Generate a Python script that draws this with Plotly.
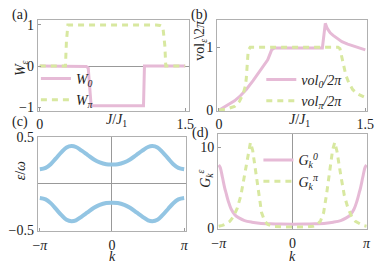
import plotly.graph_objects as go

# ---------------- data ----------------
# (a) winding numbers vs J/J1
J_w0 = [0.0, 0.45, 0.48, 0.50, 0.53, 0.60, 0.80, 1.00, 1.07, 1.08, 1.10, 1.50]
W0 = [0.0, 0.0, -0.01, -0.05, -0.97, -0.97, -0.97, -0.97, -0.97, 0.0, 0.0, 0.0]
J_wpi = [0.0, 0.265, 0.275, 0.29, 1.20, 1.24, 1.27, 1.29, 1.30, 1.50]
Wpi = [0.0, 0.0, 0.6, 1.0, 1.0, 0.99, 0.95, 0.5, 0.0, 0.0]

# (b) volumes vs J/J1
J_v0 = [0.0, 0.05, 0.10, 0.16, 0.22, 0.28, 0.35, 0.42, 0.47, 0.50, 0.52, 0.54, 0.57,
        0.70, 0.90, 1.06, 1.08, 1.09, 1.11, 1.14, 1.17, 1.22, 1.26, 1.32, 1.40, 1.50]
vol0 = [0.0, 0.05, 0.10, 0.15, 0.23, 0.33, 0.47, 0.62, 0.72, 0.80, 0.88, 0.96, 0.99,
        0.99, 0.99, 0.99, 1.25, 1.38, 1.30, 1.23, 1.19, 1.13, 1.09, 1.05, 1.01, 0.96]
J_vpi = [0.0, 0.08, 0.16, 0.21, 0.25, 0.27, 0.28, 0.29, 0.30, 0.32, 0.60, 1.00,
         1.22, 1.24, 1.26, 1.28, 1.30, 1.33, 1.37, 1.42, 1.48, 1.50]
volpi = [0.0, 0.02, 0.06, 0.14, 0.27, 0.38, 0.50, 0.75, 0.95, 1.0, 1.0, 1.0,
         1.0, 0.98, 0.85, 0.68, 0.56, 0.44, 0.33, 0.26, 0.21, 0.20]

# (c) quasienergy bands vs k (k in units of pi)
k_band = [-1.0, -0.92, -0.85, -0.78, -0.70, -0.63, -0.56, -0.50, -0.42, -0.34, -0.25, -0.17, -0.08, 0.0,
          0.08, 0.17, 0.25, 0.34, 0.42, 0.50, 0.56, 0.63, 0.70, 0.78, 0.85, 0.92, 1.0]
band_up = [0.155, 0.17, 0.21, 0.27, 0.34, 0.39, 0.405, 0.395, 0.355, 0.31, 0.26, 0.228, 0.208, 0.205,
           0.208, 0.228, 0.26, 0.31, 0.355, 0.395, 0.405, 0.39, 0.34, 0.27, 0.21, 0.17, 0.155]
band_dn = [-0.155, -0.17, -0.21, -0.27, -0.34, -0.39, -0.405, -0.395, -0.355, -0.31, -0.26, -0.228, -0.208, -0.205,
           -0.208, -0.228, -0.26, -0.31, -0.355, -0.395, -0.405, -0.39, -0.34, -0.27, -0.21, -0.17, -0.155]

# (d) G_k vs k (k in units of pi)
k_g0 = [-1.0, -0.98, -0.95, -0.92, -0.90, -0.87, -0.83, -0.78, -0.72, -0.65, -0.55, -0.45, -0.30, -0.15, 0.0,
        0.15, 0.30, 0.45, 0.55, 0.65, 0.72, 0.78, 0.83, 0.87, 0.90, 0.92, 0.95, 0.98, 1.0]
G0 = [7.8, 7.5, 6.3, 5.0, 4.3, 3.3, 2.3, 1.6, 1.2, 0.9, 0.7, 0.58, 0.5, 0.46, 0.45,
      0.46, 0.5, 0.58, 0.7, 0.9, 1.2, 1.6, 2.3, 3.3, 4.3, 5.0, 6.3, 7.5, 7.8]
k_gpi = [-1.0, -0.95, -0.90, -0.85, -0.80, -0.75, -0.70, -0.65, -0.60, -0.57, -0.54, -0.50, -0.46, -0.42,
         -0.38, -0.34, -0.28, -0.20, -0.10, 0.0, 0.10, 0.20, 0.28, 0.34, 0.38, 0.42, 0.46, 0.50, 0.54,
         0.57, 0.60, 0.65, 0.70, 0.75, 0.80, 0.85, 0.90, 0.95, 1.0]
Gpi = [0.2, 0.3, 0.5, 0.8, 1.4, 2.4, 4.0, 6.6, 9.5, 10.6, 9.6, 6.9, 4.2, 1.9,
       0.9, 0.45, 0.2, 0.12, 0.1, 0.1, 0.1, 0.12, 0.2, 0.45, 0.9, 1.9, 4.2, 6.9, 9.6,
       10.6, 9.5, 6.6, 4.0, 2.4, 1.4, 0.8, 0.5, 0.3, 0.2]

pi_ticks = [-1, 0, 1]
pi_labels = ["\u2212<i>\u03c0</i>", "0", "<i>\u03c0</i>"]

PINK = "#e6bad6"
GREEN = "#d8e8a0"
BLUE = "#93c5e3"
DASH = "6px,5px"
FONT = "'Liberation Serif', 'Times New Roman', serif"
FS = 14
W = 381
H = 265

fig = go.Figure()

fig.add_trace(go.Scatter(x=J_w0, y=W0, mode="lines", name="<i>W<sub>0</sub></i>",
                         line=dict(color=PINK, width=3), xaxis="x", yaxis="y", legend="legend"))
fig.add_trace(go.Scatter(x=J_wpi, y=Wpi, mode="lines", name="<i>W<sub>\u03c0</sub></i>",
                         line=dict(color=GREEN, width=3, dash=DASH), xaxis="x", yaxis="y", legend="legend"))

fig.add_trace(go.Scatter(x=J_v0, y=vol0, mode="lines", name="<i>vol<sub>0</sub>/2\u03c0</i>",
                         line=dict(color=PINK, width=3), xaxis="x2", yaxis="y2", legend="legend2"))
fig.add_trace(go.Scatter(x=J_vpi, y=volpi, mode="lines", name="<i>vol<sub>\u03c0</sub>/2\u03c0</i>",
                         line=dict(color=GREEN, width=3, dash=DASH), xaxis="x2", yaxis="y2", legend="legend2"))

fig.add_trace(go.Scatter(x=k_band, y=band_up, mode="lines", line=dict(color=BLUE, width=4, shape="spline"),
                         xaxis="x3", yaxis="y3", showlegend=False))
fig.add_trace(go.Scatter(x=k_band, y=band_dn, mode="lines", line=dict(color=BLUE, width=4, shape="spline"),
                         xaxis="x3", yaxis="y3", showlegend=False))

fig.add_trace(go.Scatter(x=k_g0, y=G0, mode="lines", name="<i>G<sub>k</sub><sup>0</sup></i>",
                         line=dict(color=PINK, width=3, shape="spline"), xaxis="x4", yaxis="y4", legend="legend3"))
fig.add_trace(go.Scatter(x=k_gpi, y=Gpi, mode="lines", name="<i>G<sub>k</sub><sup>\u03c0</sup></i>",
                         line=dict(color=GREEN, width=3, dash=DASH), xaxis="x4", yaxis="y4", legend="legend3"))


def ax(domain, rng, tickvals, ticktext, zeroline=False, anchor=None, standoff=None):
    d = dict(domain=domain, range=rng, tickvals=tickvals, ticktext=ticktext,
             showline=True, mirror=True, linecolor="#b0b0b0", linewidth=1,
             ticks="inside", ticklen=3, tickcolor="#999", showgrid=False,
             zeroline=zeroline, zerolinecolor="#999", zerolinewidth=1,
             tickfont=dict(family=FONT, size=FS, color="#222"), anchor=anchor)
    if standoff is not None:
        d["ticklabelstandoff"] = standoff
    return d


def px(x):
    return x / W


def py(y):
    return 1 - y / H


legfont = dict(family=FONT, size=FS, color="#222")
fig.update_layout(
    width=W, height=H, margin=dict(l=0, r=0, t=0, b=0), autosize=False,
    paper_bgcolor="white", plot_bgcolor="white",
    font=dict(family=FONT, size=FS, color="#222"),
    xaxis=ax([px(32), px(189)], [-0.02, 1.54], [0, 1.5], ["0", "1.5"], anchor="y"),
    yaxis=ax([py(110), py(14)], [-1.10, 1.115], [-1, 0, 1], ["\u22121", "0", "1"], zeroline=True, anchor="x"),
    xaxis2=ax([px(218), px(374)], [-0.02, 1.52], [0, 1.5], ["0", "1.5"], anchor="y2"),
    yaxis2=ax([py(110), py(14)], [-0.015, 1.43], [0, 1], ["0", "1"], anchor="x2"),
    xaxis3=ax([px(32), px(186)], [-1.028, 1.028], pi_ticks, pi_labels, zeroline=True, anchor="y3", standoff=2),
    yaxis3=ax([py(236), py(137)], [-0.505, 0.505], [-0.5, 0.5], ["\u22120.5", "0.5"], zeroline=True, anchor="x3"),
    xaxis4=ax([px(219), px(374)], [-1.01, 1.01], pi_ticks, pi_labels, zeroline=True, anchor="y4", standoff=2),
    yaxis4=ax([py(234), py(134)], [-0.1, 11.65], [0, 10], ["0", "10"], anchor="x4"),
    legend=dict(x=px(30), y=py(59), xanchor="left", yanchor="top", bgcolor="rgba(0,0,0,0)",
                font=legfont, itemwidth=30, tracegroupgap=0),
    legend2=dict(x=px(264), y=py(60), xanchor="left", yanchor="top", bgcolor="rgba(0,0,0,0)",
                 font=legfont, itemwidth=30, tracegroupgap=0),
    legend3=dict(x=px(261), y=py(145), xanchor="left", yanchor="top", bgcolor="rgba(0,0,0,0)",
                 font=legfont, itemwidth=30, tracegroupgap=0),
)

ann = [
    ("(a)", 13, 8, 0), ("(b)", 200, 8, 0), ("(c)", 13, 121, 0), ("(d)", 201, 133, 0),
    ("<i>J</i>/<i>J</i><sub>1</sub>", 114, 120, 0), ("<i>J</i>/<i>J</i><sub>1</sub>", 304, 120, 0),
    ("<i>k</i>", 110, 263, 0), ("<i>k</i>", 296, 263, 0),
    ("<i>W<sub>\u03b5</sub></i>", 15, 64, -90), ("vol<sub><i>\u03b5</i></sub>\\2<i>\u03c0</i>", 201, 35, -90),
    ("<i>\u03b5</i>/<i>\u03c9</i>", 14, 173, -90), ("<i>G<sub>k</sub><sup>\u03b5</sup></i>", 206, 181, -90),
]
for text, x, y, ang in ann:
    fig.add_annotation(text=text, x=px(x), y=py(y), xref="paper", yref="paper", showarrow=False,
                       xanchor="center", yanchor="middle", textangle=ang,
                       font=dict(family=FONT, size=FS, color="#222"))

fig.write_html("out.html", config={"displayModeBar": False},
               post_script="document.body.style.margin='0';document.body.style.overflow='hidden';")
